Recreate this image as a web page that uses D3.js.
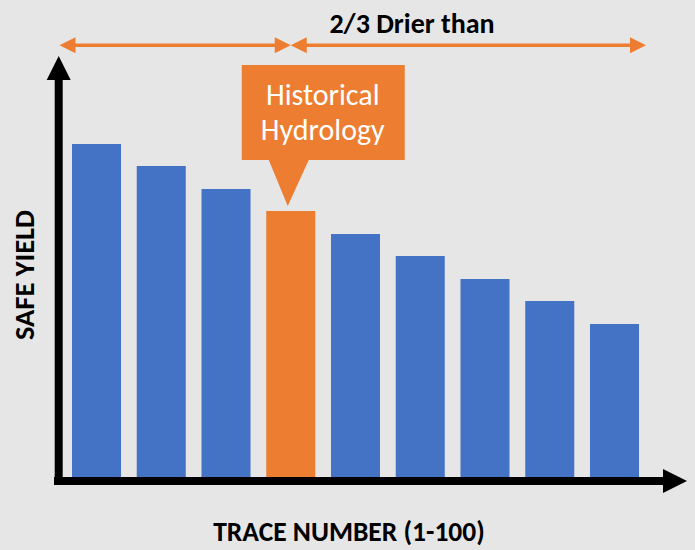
<!DOCTYPE html>
<html lang="en">
<head>
<meta charset="utf-8">
<title>Safe yield by trace</title>
<script src="https://d3js.org/d3.v7.min.js"></script>
<style>
  html, body { margin: 0; padding: 0; background: #e7e6e6; }
  svg { display: block; }
</style>
</head>
<body>
<div id="chart"></div>
<script>
// data (bar heights, arbitrary units)
var traces = ["1", "2", "3", "4", "5", "6", "7", "8", "9"]
var safeYield = [337, 315, 292, 270, 247, 225, 202, 180, 157]
var historicalTrace = "4"
var calloutLines = ["Historical", "Hydrology"]
var topLabel = "2/3 Drier than"
var xTitle = "TRACE NUMBER (1-100)"
var yTitle = "SAFE YIELD"

var width = 695, height = 550
var blue = "#4472c4", orange = "#ed7d31"
var font = "Carlito, Lato, 'Open Sans', sans-serif"

var svg = d3.select("#chart").append("svg")
    .attr("width", width)
    .attr("height", height)

svg.append("rect")
    .attr("width", width).attr("height", height)
    .attr("fill", "#e7e6e6")

var x = d3.scaleBand()
    .domain(traces)
    .range([72, 639])
    .paddingInner(0.243)
    .paddingOuter(0)

var y = d3.scaleLinear()
    .domain([0, 350])
    .range([481, 131])

// bars
svg.selectAll(".bar")
    .data(traces)
    .enter()
    .append("rect")
    .attr("class", "bar")
    .attr("x", function(d) { return x(d) })
    .attr("width", x.bandwidth())
    .attr("y", function(d, i) { return y(safeYield[i]) })
    .attr("height", function(d, i) { return y(0) - y(safeYield[i]) })
    .attr("fill", function(d) { return d === historicalTrace ? orange : blue })

// axes with arrow heads
var x0 = 58.7, y0 = y(0)
svg.append("line")
    .attr("x1", x0).attr("x2", x0)
    .attr("y1", y0 + 4).attr("y2", 79)
    .attr("stroke", "#000").attr("stroke-width", 8)
svg.append("path")
    .attr("d", "M" + (x0 - 12) + ",80L" + x0 + ",56L" + (x0 + 12) + ",80Z")
    .attr("fill", "#000")
svg.append("line")
    .attr("x1", 54).attr("x2", 664)
    .attr("y1", y0).attr("y2", y0)
    .attr("stroke", "#000").attr("stroke-width", 8)
svg.append("path")
    .attr("d", "M663," + (y0 - 12) + "L687," + y0 + "L663," + (y0 + 12) + "Z")
    .attr("fill", "#000")

// top double arrows
var cx = x(historicalTrace) + x.bandwidth() / 2
var lineY = 45.3
function doubleArrow(a, b) {
    svg.append("line")
        .attr("x1", a + 10).attr("x2", b - 10)
        .attr("y1", lineY).attr("y2", lineY)
        .attr("stroke", orange).attr("stroke-width", 3.5)
    svg.append("path")
        .attr("d", "M" + a + "," + lineY + "L" + (a + 16) + "," + (lineY - 8) + "L" + (a + 16) + "," + (lineY + 8) + "Z")
        .attr("fill", orange)
    svg.append("path")
        .attr("d", "M" + b + "," + lineY + "L" + (b - 16) + "," + (lineY - 8) + "L" + (b - 16) + "," + (lineY + 8) + "Z")
        .attr("fill", orange)
}
doubleArrow(59.5, cx)
doubleArrow(cx, x(traces[traces.length - 1]) + x.bandwidth() + 7)

svg.append("text")
    .attr("x", 412).attr("y", 33)
    .attr("text-anchor", "middle")
    .style("font-family", font)
    .style("font-weight", "bold")
    .style("font-size", "28px")
    .text(topLabel)

// callout
var barTop = y(safeYield[traces.indexOf(historicalTrace)])
svg.append("path")
    .attr("d", "M" + (cx - 49) + ",65H" + (cx + 114) + "V160H" + (cx + 18) +
        "L" + (cx - 3) + "," + (barTop - 5) + "L" + (cx - 22) + ",160H" + (cx - 49) + "Z")
    .attr("fill", orange)
svg.selectAll(".callout")
    .data(calloutLines)
    .enter()
    .append("text")
    .attr("class", "callout")
    .attr("x", cx + 32)
    .attr("y", function(d, i) { return 105 + i * 35 })
    .attr("text-anchor", "middle")
    .attr("fill", "#fff")
    .style("font-family", font)
    .style("font-size", "30px")
    .text(function(d) { return d })

// axis titles
svg.append("text")
    .attr("x", 349).attr("y", 541)
    .attr("text-anchor", "middle")
    .style("font-family", font)
    .style("font-weight", "bold")
    .style("font-size", "27.5px")
    .text(xTitle)

svg.append("text")
    .attr("transform", "translate(34,275) rotate(-90)")
    .attr("text-anchor", "middle")
    .style("font-family", font)
    .style("font-weight", "bold")
    .style("font-size", "28.5px")
    .text(yTitle)
</script>
</body>
</html>
